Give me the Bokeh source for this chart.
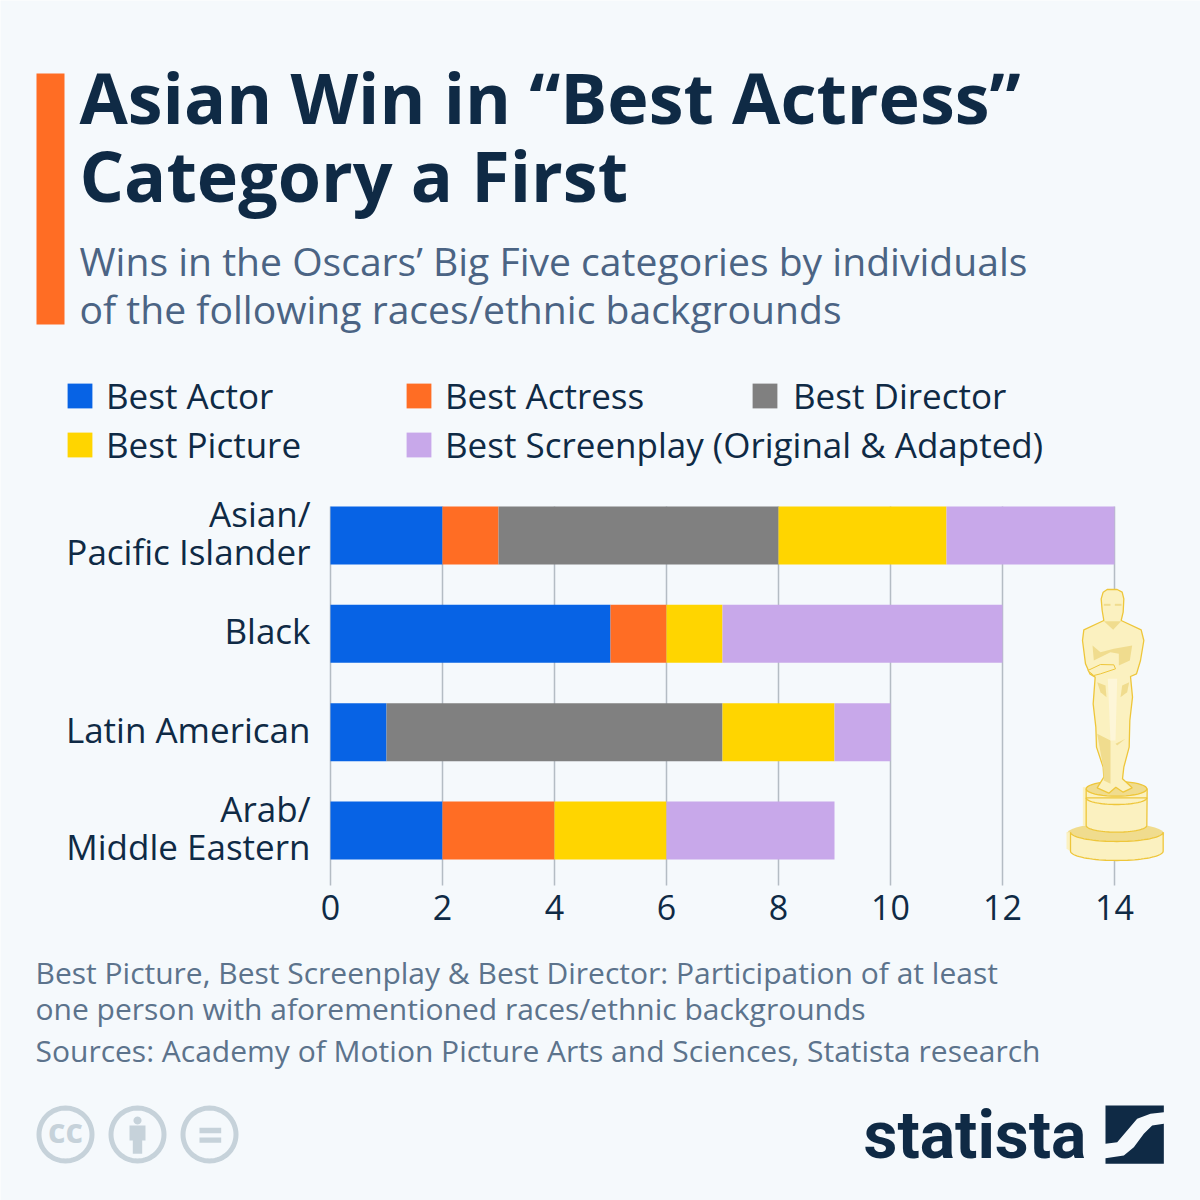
import math
from bokeh.embed import file_html
from bokeh.resources import INLINE
from bokeh.plotting import figure
from bokeh.models import (ColumnDataSource, Label, BoxAnnotation, PolyAnnotation, Legend, LegendItem,
                          FixedTicker, Range1d)

groups = ["Asian/\nPacific Islander", "Black", "Latin American", "Arab/\nMiddle Eastern"]
series = ["Best Actor", "Best Actress", "Best Director", "Best Picture", "Best Screenplay (Original & Adapted)"]
best_actor = [2, 5, 1, 2]
best_actress = [1, 1, 0, 2]
best_director = [5, 0, 6, 0]
best_picture = [3, 1, 2, 2]
best_screenplay = [3, 5, 1, 3]
colors = ["#0763e5", "#ff6d24", "#808080", "#ffd500", "#c8a8ea"]
ticks = [0, 2, 4, 6, 8, 10, 12, 14]

BG = "#f5f9fc"
INK = "#0f2a45"
W = H = 1200
FONT = "Open Sans"
X_PX = 56.0      # pixels per win
Y_PX = 98.33     # pixels per row
X0_PX = 330
Y0_PX = 535

xr = Range1d(-X0_PX / X_PX, (W - X0_PX) / X_PX)
yr = Range1d((H - Y0_PX) / Y_PX, -Y0_PX / Y_PX)
axis_y = (885 - Y0_PX) / Y_PX
grid_top = (506 - Y0_PX) / Y_PX

p = figure(width=W, height=H, output_backend="svg", toolbar_location=None, x_range=xr, y_range=yr,
           outline_line_color=None, background_fill_color=BG, border_fill_color=BG,
           min_border=0, min_border_left=0, min_border_right=0, min_border_top=0, min_border_bottom=0)

pos = list(range(len(groups)))
p.segment(x0=ticks, x1=ticks, y0=[grid_top] * len(ticks), y1=[axis_y] * len(ticks),
          line_color="#b4bcc4", line_width=1.5)
src = ColumnDataSource(dict(pos=pos, Actor=best_actor, Actress=best_actress, Director=best_director,
                            Picture=best_picture, Screenplay=best_screenplay))
keys = ["Actor", "Actress", "Director", "Picture", "Screenplay"]
rs = p.hbar_stack(keys, y="pos", height=58 / Y_PX, color=colors, source=src, line_color=None)

p.grid.grid_line_color = None
p.xaxis.fixed_location = axis_y
p.yaxis.fixed_location = 0
label_pos = [i - 0.03 for i in pos]   # labels sit 3px above the bar centres
p.xaxis.ticker = FixedTicker(ticks=ticks)
p.yaxis.ticker = FixedTicker(ticks=label_pos)
p.yaxis.major_label_overrides = dict(zip(label_pos, groups))
for ax in (p.xaxis, p.yaxis):
    ax.axis_line_color = None
    ax.major_tick_line_color = None
    ax.minor_tick_line_color = None
    ax.major_tick_out = 0
    ax.major_tick_in = 0
    ax.minor_tick_out = 0
    ax.minor_tick_in = 0
    ax.major_label_text_font = FONT
    ax.major_label_text_color = INK
p.xaxis.major_label_text_font_size = "34px"
p.yaxis.major_label_text_font_size = "35px"
p.xaxis.major_label_standoff = 9
p.yaxis.major_label_standoff = 20
p.yaxis.major_label_text_line_height = 0.79


def sy(y):
    return H - y


def text(x, y, s, size, color, style="normal", font=FONT, align="left"):
    # y is the wanted baseline; the renderer sets alphabetic text about 0.41 em lower
    p.add_layout(Label(x=x, y=sy(y - 0.41 * size), x_units="screen", y_units="screen", text=s, text_font=font,
                       text_font_size=f"{size}px", text_color=color, text_font_style=style,
                       text_align=align, text_baseline="alphabetic"))


def poly(pts, fill=None, line=None, lw=1.0, ox=0, oy=0, k=1.0):
    xs = [ox + px * k for px, _ in pts]
    ys = [sy(oy + py * k) for _, py in pts]
    p.add_layout(PolyAnnotation(xs=xs, ys=ys, xs_units="screen", ys_units="screen",
                                fill_color=fill, fill_alpha=1 if fill else 0,
                                line_color=line, line_alpha=1 if line else 0, line_width=lw))


def arc(cx, cy, rx, ry, a0=0, a1=360, n=40):
    return [(cx + rx * math.cos(math.radians(a0 + (a1 - a0) * i / n)),
             cy + ry * math.sin(math.radians(a0 + (a1 - a0) * i / n))) for i in range(n + 1)]


# accent bar
p.add_layout(BoxAnnotation(left=36, right=64, top=sy(73), bottom=sy(324),
                           left_units="screen", right_units="screen", top_units="screen", bottom_units="screen",
                           fill_color="#ff6d24", fill_alpha=1, line_color=None))

# titles
text(79, 125, "Asian Win in “Best Actress”", 70, INK, "bold")
text(79, 203, "Category a First", 70, INK, "bold")
text(79, 276, "Wins in the Oscars’ Big Five categories by individuals", 39.1, "#4b6484")
text(79, 324, "of the following races/ethnic backgrounds", 39.1, "#4b6484")

# legend: one block per reference position
leg_pos = [(67, 391, 11), (406, 391, 11), (752, 391, 13), (67, 440, 11), (406, 440, 11)]
for r, name, (lx, ly, gap) in zip(rs, series, leg_pos):
    leg = Legend(items=[LegendItem(label=name, renderers=[r])], location=(lx - 3, sy(ly + 28)),
                 glyph_width=31, glyph_height=31, label_standoff=gap, padding=0, margin=0, spacing=0,
                 background_fill_alpha=0, border_line_color=None,
                 label_text_font=FONT, label_text_font_size="35px", label_text_color=INK, label_height=31)
    p.add_layout(leg, "center")

# footer
text(35, 984, "Best Picture, Best Screenplay & Best Director: Participation of at least", 30, "#5c738c")
text(35, 1020, "one person with aforementioned races/ethnic backgrounds", 30, "#5c738c")
text(35, 1062, "Sources: Academy of Motion Picture Arts and Sciences, Statista research", 30, "#5c738c")

SF = "#fbf1c0"
SL = "#eec63a"
SD = "#f0dc8e"
SP = dict(ox=1050, oy=570, k=1 / 3)
# lower disc
poly(arc(195, 790, 146, 32), SD, None, **SP)
poly([(48, 785), (60, 785), (60, 842), (48, 835)], SF, None, **SP)
poly([(60, 785), (60, 842)] + arc(199, 842, 139, 28, 180, 0) + [(338, 785)] + arc(199, 785, 139, 28, 0, 180),
     SF, SL, 1.3, **SP)
# cylinder
poly([(97, 650), (107, 650), (107, 765), (97, 765)], SF, None, **SP)
poly([(107, 655), (107, 765)] + arc(198, 765, 91, 20, 180, 0) + [(290, 655)], SF, SL, 1.3, **SP)
poly(arc(198, 682, 91, 20, 0, 180), None, SL, 1.3, **SP)
poly(arc(198, 655, 91, 22), SD, SL, 1.3, **SP)
# figure
body = [(158, 65), (170, 57), (200, 57), (215, 65), (220, 85), (218, 125), (212, 150), (272, 178), (280, 210),
        (270, 270), (258, 310), (240, 318), (246, 380), (238, 450), (236, 530), (220, 590), (216, 625), (245, 652),
        (218, 665), (196, 650), (175, 668), (140, 652), (160, 620), (158, 590), (138, 530), (136, 470), (128, 400),
        (134, 320), (118, 310), (105, 280), (96, 210), (100, 178), (160, 150), (155, 120), (152, 85)]
poly(body, SF, SL, 1.3, **SP)
poly([(160, 152), (212, 152), (188, 178)], SD, None, **SP)
poly([(126, 225), (150, 245), (190, 235), (245, 225), (238, 270), (205, 285), (205, 250), (180, 245), (130, 270)],
     SD, None, **SP)
poly([(112, 300), (150, 282), (190, 283), (195, 295), (150, 310), (130, 315)], SF, SL, 1.0, **SP)
poly([(140, 490), (180, 510), (180, 640), (160, 630), (158, 590)], SD, None, **SP)
poly([(195, 520), (225, 505), (200, 525)], SD, None, **SP)
poly([(172, 325), (200, 325), (195, 510), (180, 510)], "#fdf6d8", None, **SP)
poly([(140, 335), (165, 345), (168, 380), (150, 365)], SD, None, **SP)
poly([(236, 335), (215, 345), (210, 380), (230, 365)], SD, None, **SP)
poly([(160, 100), (180, 100), (180, 106), (160, 106)], SD, None, **SP)
poly([(193, 100), (213, 100), (213, 106), (193, 106)], SD, None, **SP)

# licence icons
GR = "#c6d2da"
for cx in (65, 137, 209):
    poly(arc(cx, 1134, 26.5, 26.5, n=60), None, GR, 5)
text(65, 1143, "cc", 34, GR, "bold", align="center")
poly(arc(137, 1120, 4, 4, n=24), GR, None)
poly([(129, 1125), (145, 1125), (145, 1140), (141.7, 1140), (141.7, 1153.3), (132.3, 1153.3), (132.3, 1140), (129, 1140)],
     GR, None)
poly([(199, 1127.3), (220.7, 1127.3), (220.7, 1132.7), (199, 1132.7)], GR, None)
poly([(199, 1137), (220.7, 1137), (220.7, 1142.3), (199, 1142.3)], GR, None)

# statista logo
text(863, 1162, "statista", 66, INK, "bold", font="Roboto")
LG = dict(ox=850, oy=1090, k=1 / 3)
poly([(765, 45), (940, 45), (940, 65), (900, 70), (860, 85), (830, 120), (800, 155), (765, 160)], INK, None, **LG)
poly([(940, 100), (905, 105), (880, 130), (850, 170), (820, 195), (765, 203), (765, 220), (940, 220)], INK, None, **LG)

open("out.html", "w").write(file_html(p, INLINE))
